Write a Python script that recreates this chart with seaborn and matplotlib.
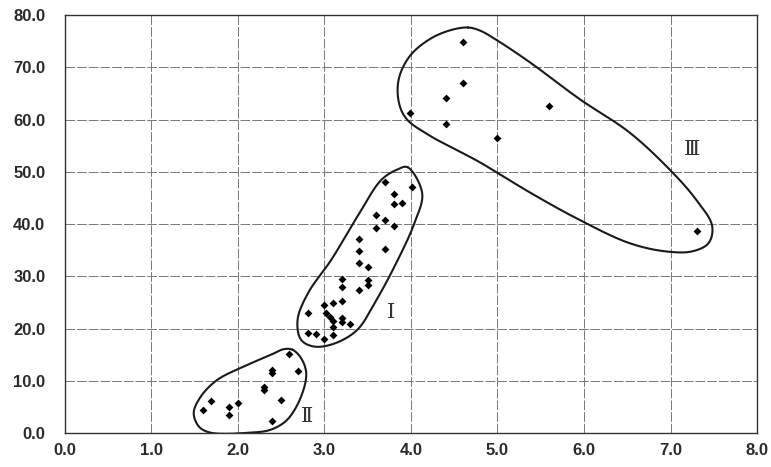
import matplotlib
matplotlib.use("Agg")
import matplotlib.pyplot as plt
import seaborn as sns
import numpy as np
import pandas as pd

# cluster I
x_1 = [3.70, 4.01, 3.81, 3.81, 3.90, 3.60, 3.70, 3.60, 3.81, 3.40, 3.40, 3.70,
       3.40, 3.50, 3.20, 3.20, 3.50, 3.50, 3.40, 3.10, 3.20, 3.00, 3.02, 3.06,
       3.10, 3.20, 3.20, 3.30, 3.10, 2.81, 2.81, 2.90, 3.00, 3.10]
y_1 = [48.1, 47.1, 45.7, 43.9, 44.1, 41.7, 40.7, 39.2, 39.6, 37.1, 34.9, 35.2,
       32.6, 31.9, 29.6, 28.0, 29.4, 28.3, 27.4, 25.0, 25.3, 24.5, 23.1, 22.3,
       21.5, 22.0, 21.2, 21.0, 20.4, 23.0, 19.2, 19.0, 18.1, 18.8]
# cluster II
x_2 = [2.59, 2.40, 2.40, 2.69, 2.30, 2.30, 2.50, 1.69, 2.00, 1.90, 1.60, 1.90, 2.40]
y_2 = [15.1, 12.1, 11.6, 12.0, 8.9, 8.2, 6.4, 6.1, 5.9, 5.0, 4.4, 3.5, 2.4]
# cluster III
x_3 = [4.60, 4.60, 4.40, 3.99, 4.40, 5.60, 4.99, 7.31]
y_3 = [74.9, 67.0, 64.1, 61.2, 59.2, 62.6, 56.4, 38.7]

# hand drawn outlines round each cluster
ring_1_x = [3.96, 4.13, 4.04, 3.81, 3.58, 3.38, 3.12, 2.88, 2.73, 2.69, 2.81, 3.08, 3.39, 3.66, 3.85]
ring_1_y = [50.9, 45.9, 40.2, 31.9, 24.9, 19.8, 17.2, 16.6, 17.9, 21.7, 26.8, 33.2, 41.7, 48.5, 50.5]
ring_2_x = [2.63, 2.73, 2.79, 2.73, 2.57, 2.38, 2.15, 1.68, 1.55, 1.49, 1.57, 1.76, 2.07, 2.38, 2.53]
ring_2_y = [16.0, 14.4, 11.5, 7.0, 2.6, 0.7, 0.15, 0.15, 1.3, 3.9, 7.0, 10.2, 12.8, 15.0, 16.1]
ring_3_x = [4.66, 4.80, 4.99, 5.37, 5.95, 6.52, 6.98, 7.29, 7.48, 7.44, 7.25, 6.94, 6.52, 5.95,
            5.37, 4.80, 4.22, 3.95, 3.86, 3.86, 3.99, 4.22, 4.46]
ring_3_y = [77.6, 77.0, 75.2, 71.0, 63.9, 57.6, 50.6, 44.8, 39.7, 36.4, 34.8, 34.8, 36.4, 40.8,
            46.1, 51.8, 56.9, 60.1, 63.3, 67.8, 72.2, 75.4, 77.1]

labels = ["Ⅰ", "Ⅱ", "Ⅲ"]
label_x = [3.77, 2.80, 7.25]
label_y = [23.1, 3.3, 54.2]


def closed_curve(xs, ys, n=30):
    # periodic centripetal Catmull-Rom, worked out in screen-like units
    sx, sy = 86.5, 5.23
    p = np.column_stack([np.array(xs) * sx, np.array(ys) * sy])
    m = len(p)
    out = []
    for i in range(m):
        p0, p1, p2, p3 = p[i - 1], p[i], p[(i + 1) % m], p[(i + 2) % m]
        t0 = 0.0
        t1 = t0 + np.linalg.norm(p1 - p0) ** 0.5
        t2 = t1 + np.linalg.norm(p2 - p1) ** 0.5
        t3 = t2 + np.linalg.norm(p3 - p2) ** 0.5
        t = np.linspace(t1, t2, n, endpoint=False)[:, None]
        a1 = (t1 - t) / (t1 - t0) * p0 + (t - t0) / (t1 - t0) * p1
        a2 = (t2 - t) / (t2 - t1) * p1 + (t - t1) / (t2 - t1) * p2
        a3 = (t3 - t) / (t3 - t2) * p2 + (t - t2) / (t3 - t2) * p3
        b1 = (t2 - t) / (t2 - t0) * a1 + (t - t0) / (t2 - t0) * a2
        b2 = (t3 - t) / (t3 - t1) * a2 + (t - t1) / (t3 - t1) * a3
        out.append((t2 - t) / (t2 - t1) * b1 + (t - t1) / (t2 - t1) * b2)
    out = np.vstack(out + [p[:1]])
    return out[:, 0] / sx, out[:, 1] / sy


df = pd.DataFrame({
    "x": x_1 + x_2 + x_3,
    "y": y_1 + y_2 + y_3,
})

sns.set_style("white")
plt.rcParams['font.family'] = ['Liberation Sans', 'DejaVu Sans']

fig = plt.figure(figsize=(7.71, 4.67), dpi=100)
ax = fig.add_axes([0.084, 0.072, 0.898, 0.896])

sns.scatterplot(data=df, x="x", y="y", marker="D", s=16, color="black",
                edgecolor="black", linewidth=0, ax=ax, zorder=3)

for rx, ry in [(ring_1_x, ring_1_y), (ring_2_x, ring_2_y), (ring_3_x, ring_3_y)]:
    cx, cy = closed_curve(rx, ry)
    ax.plot(cx, cy, color="#1a1a1a", lw=1.5, zorder=2)

for lab, lx, ly in zip(labels, label_x, label_y):
    ax.text(lx, ly, lab, fontsize=15, family=["DejaVu Serif", "Noto Sans CJK JP"],
            ha="center", va="center", color="#333333")

ax.set_xlim(0, 8)
ax.set_ylim(0, 80)
ax.set_xticks(np.arange(0, 8.1, 1))
ax.set_yticks(np.arange(0, 81, 10))
ax.set_xticklabels([f"{v:.1f}" for v in np.arange(0, 8.1, 1)])
ax.set_yticklabels([f"{v:.1f}" for v in np.arange(0, 81, 10)])
ax.tick_params(axis="y", length=0, labelsize=12, pad=14)
ax.tick_params(axis="x", length=0, labelsize=12, pad=7)
for t in ax.get_xticklabels() + ax.get_yticklabels():
    t.set_fontweight("bold")
    t.set_color("#2a2a2a")
ax.grid(True, color="#777777", lw=0.7, linestyle=(0, (10, 2)))
ax.set_xlabel("")
ax.set_ylabel("")
for s in ax.spines.values():
    s.set_color("#333333")
    s.set_linewidth(1.0)

fig.savefig("out.png", dpi=100)
